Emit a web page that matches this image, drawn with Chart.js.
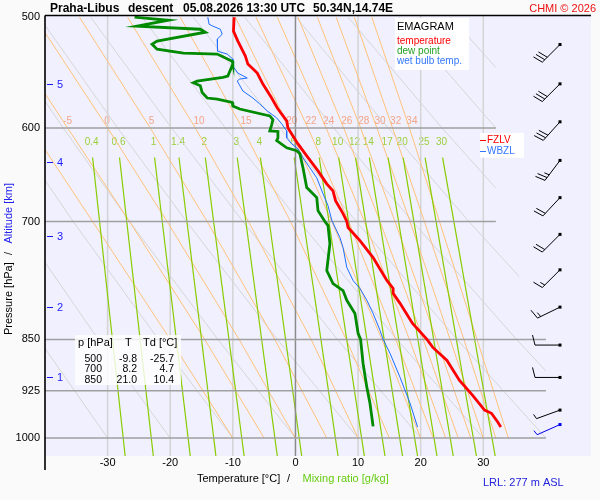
<!DOCTYPE html>
<html>
<head>
<meta charset="utf-8">
<script src="https://cdn.jsdelivr.net/npm/chart.js@4.4.1/dist/chart.umd.min.js"></script>
<style>
html, body { margin: 0; padding: 0; background: #fafafa; }
canvas { display: block; }
</style>
</head>
<body>
<canvas id="emagram" width="600" height="500"></canvas>
<script>
// sondage (p v hPa, teploty v °C)
var tempP = [500, 511.6, 520.1, 533.1, 540.1, 548.2, 558.2, 571.2, 580.6, 593.1, 600, 611, 616, 628.3, 644, 657.9, 665.5, 676.4, 691, 700, 707, 722.4, 742.8, 771.4, 781.6, 788, 801, 828, 850, 861, 880, 909.4, 932, 955, 960, 974, 982];
var tempT = [-9.8, -9.9, -9.2, -8.0, -7.6, -6.1, -5.2, -3.8, -2.9, -1.4, -1.2, -0.1, 0.4, 1.8, 3.6, 5.0, 6.0, 6.4, 7.6, 8.2, 8.4, 10.3, 12.4, 14.6, 15.6, 15.6, 16.7, 18.7, 21.0, 21.9, 24.2, 26.2, 28.3, 30.2, 31.3, 32.3, 32.8];

var dewP = [500, 502.5, 507.4, 510, 512.5, 520, 522.7, 527, 530.5, 531.3, 537.5, 540, 550.9, 552, 555.4, 557, 559.7, 566, 571.2, 572.3, 575.4, 578.7, 581.6, 588.3, 591.9, 597, 603, 603.5, 610, 612.6, 620, 623, 626, 640.7, 662, 673, 687.6, 700, 704.8, 725.9, 758.9, 775.3, 784.4, 797, 814.4, 841.5, 850, 884.4, 919.9, 944.3, 981];
var dewT = [-25.7, -20.3, -25.3, -15.2, -14.4, -22.1, -22.9, -22.1, -17.9, -12.5, -10.1, -10.0, -10.8, -11.6, -15.7, -16.3, -15.2, -14.9, -14.1, -12.5, -10.1, -10.0, -8.9, -4.1, -3.6, -3.8, -4.1, -2.8, -2.8, -3.0, -1.4, 0.2, 0.7, 1.2, 1.8, 3.4, 3.6, 4.7, 5.2, 5.5, 5.0, 6.0, 7.6, 8.2, 9.5, 10.0, 10.4, 10.8, 11.4, 11.9, 12.4];

var wetP = [500, 505.8, 507.4, 510, 514.2, 518.4, 524.4, 528.7, 531.3, 535.7, 541.9, 548.2, 552.7, 553.6, 555.4, 564.6, 571.2, 576.8, 583.5, 590.2, 596, 603, 610, 616, 621, 630.3, 640.7, 651.4, 668.7, 682, 698.6, 718.8, 730.7, 755, 771.4, 781.6, 797, 814.4, 837.4, 850, 869.7, 904.8, 944.3, 982];
var wetT = [-14.0, -13.8, -13.2, -12.0, -11.7, -12.5, -12.5, -12.4, -10.9, -10.0, -10.0, -9.2, -7.7, -8.9, -9.3, -8.4, -6.8, -5.7, -4.5, -3.0, -2.2, -1.4, -1.4, -0.6, 0.4, 1.2, 2.3, 3.4, 4.4, 5.2, 5.8, 7.1, 7.6, 8.2, 9.2, 10.3, 11.4, 12.4, 13.5, 14.0, 15.1, 16.7, 18.3, 19.5];

// tabulka vlevo dole
var tableP = [500, 700, 850];
var tableT = [-9.8, 8.2, 21.0];
var tableTd = [-25.7, 4.7, 10.4];

// vítr (směr odkud, rychlost v kt)
var windP = [523, 558, 594, 633, 673, 715, 758, 806, 858, 905, 955, 978];
var windDir = [225, 225, 222, 217, 223, 225, 225, 244, 270, 270, 250, 246];
var windKt = [30, 30, 30, 25, 20, 20, 15, 15, 10, 10, 5, 5];

// výšky (km) a hladiny
var altKm = [1, 2, 3, 4, 5];
var altP = [905, 806.5, 717, 635, 558.5];
var fzlvP = 612;
var wbzlP = 623;

// osy
var yTicks = [500, 600, 700, 850, 925, 1000];
var xTicks = [-30, -20, -10, 0, 10, 20, 30];
var isoT = [-30, -20, -10, 0, 10, 20, 30];
var isobarP = [600, 700, 850, 925, 1000];
var isobarEndT = [32, 32, 40, 40, 40];

// suché adiabaty (theta v °C u 1000 hPa), teploty na hladinách
var adiabatLevels = [500, 600, 700, 850, 1000];
var dryT500 = [-73.7, -65.5, -57.3, -49.1, -40.9, -32.7, -24.5, -16.3, -8.1, 0.1, 8.4, 16.6, 24.8];
var dryT600 = [-63.0, -54.4, -45.7, -37.1, -28.4, -19.8, -11.2, -2.5, 6.1, 14.8, 23.4, 32.0, 40.7];
var dryT700 = [-53.6, -44.5, -35.5, -26.5, -17.4, -8.4, 0.6, 9.7, 18.7, 27.7, 36.8, 45.8, 54.8];
var dryT850 = [-41.0, -31.5, -21.9, -12.4, -2.9, 6.7, 16.2, 25.8, 35.3, 44.9, 54.4, 64.0, 73.5];
var dryT1000 = [-30, -20, -10, 0, 10, 20, 30, 40, 50, 60, 70, 80, 90];

// nasycené adiabaty (theta_w)
var moistT500 = [-55, -48, -41.6, -34.5, -26.8, -18.4, -9.6, -6.3, -2.9, 0.4, 3.5, 6.5, 9.4, 12.2];
var moistT600 = [-42.3, -36.4, -30.0, -23.2, -16.0, -8.5, -1.0, 2.0, 4.9, 7.7, 10.4, 13.0, 15.5, 18.2];
var moistT700 = [-32.4, -26.5, -20.5, -14.1, -7.5, -0.8, 5.8, 8.5, 11.0, 13.5, 15.9, 18.3, 20.6, 23.0];
var moistT850 = [-20.0, -14.5, -9.0, -3.3, 2.5, 8.1, 13.8, 16.0, 18.2, 20.4, 22.5, 24.7, 26.9, 29.0];
var moistT1000 = [-10, -5, 0, 5, 10, 15, 20, 22, 24, 26, 28, 30, 32, 34];
var moistLabels = ['-5', '0', '5', '10', '15', '20', '22', '24', '26', '28', '30', '32', '34'];
var moistLabelT = [-36.4, -30.1, -23.0, -15.4, -7.9, -0.6, 2.5, 5.3, 8.2, 10.9, 13.5, 16.0, 18.6];

// čáry směšovacího poměru (g/kg)
var mixW = ['0.4', '0.6', '1', '1.4', '2', '3', '4', '6', '8', '10', '12', '14', '17', '20', '25', '30'];
var mixTopT = [-32.4, -28.1, -22.5, -18.6, -14.4, -9.3, -5.6, -0.2, 3.8, 6.9, 9.6, 11.8, 14.8, 17.2, 20.7, 23.5];
var mixBotT = [-27.2, -22.7, -16.8, -12.7, -8.2, -2.9, 1.0, 6.8, 11.0, 14.3, 17.1, 19.5, 22.6, 25.2, 28.9, 31.9];
var mixTopP = 630;
var mixBotP = 1030;

// hranice mřížky vpravo
var clipT = [32, 32, 40, 40];
var clipP = [500, 700, 850, 1000];

var FONT = '"Liberation Sans", Arial, sans-serif';

function pts(ps, ts) {
    return ps.map(function (p, i) { return { x: ts[i], y: p }; });
}

var datasets = [];
function addLine(data, color, width, order, gridClip) {
    datasets.push({
        data: data,
        showLine: true,
        borderColor: color,
        borderWidth: width,
        pointRadius: 0,
        fill: false,
        tension: 0,
        order: order,
        gridClip: !!gridClip
    });
}

// sondáž
addLine(pts(tempP, tempT), '#ff0000', 2.8, 0);
addLine(pts(dewP, dewT), '#008a00', 2.8, 1);
addLine(pts(wetP, wetT), '#1e6eff', 1, 2);

// izobary
for (var i = 0; i < isobarP.length; i++) {
    addLine([{ x: -40, y: isobarP[i] }, { x: isobarEndT[i], y: isobarP[i] }], '#a0a0a0', 1.5, 5);
}
// izotermy
for (var i = 0; i < isoT.length; i++) {
    addLine([{ x: isoT[i], y: 499 }, { x: isoT[i], y: 1030 }], isoT[i] === 0 ? '#8c8c8c' : '#d4d4d4', 1.5, isoT[i] === 0 ? 6 : 9);
}
// směšovací poměr
for (var i = 0; i < mixW.length; i++) {
    addLine([{ x: mixTopT[i], y: mixTopP }, { x: mixBotT[i], y: mixBotP }], '#88cc00', 1.2, 7);
}
// nasycené adiabaty
for (var i = 0; i < moistT1000.length; i++) {
    addLine(pts(adiabatLevels, [moistT500[i], moistT600[i], moistT700[i], moistT850[i], moistT1000[i]]), '#ffc27a', 1, 8, true);
}
// suché adiabaty
for (var i = 0; i < dryT1000.length; i++) {
    addLine(pts(adiabatLevels, [dryT500[i], dryT600[i], dryT700[i], dryT850[i], dryT1000[i]]), '#d6d6d6', 1, 10, true);
}

var bgPlugin = {
    id: 'bg',
    beforeDraw: function (chart) {
        var ctx = chart.ctx, a = chart.chartArea;
        ctx.save();
        ctx.fillStyle = '#fafafa';
        ctx.fillRect(0, 0, chart.width, chart.height);
        ctx.fillStyle = '#f0f0ff';
        ctx.fillRect(a.left, a.top, a.right - a.left, a.bottom - a.top);
        ctx.restore();
    }
};

var clipPlugin = {
    id: 'gridClip',
    beforeDatasetDraw: function (chart, args) {
        var ds = chart.data.datasets[args.index];
        if (!ds.gridClip) return;
        var sx = chart.scales.x, sy = chart.scales.y, ctx = chart.ctx;
        ctx.save();
        ctx.beginPath();
        ctx.moveTo(sx.getPixelForValue(-40), sy.getPixelForValue(clipP[0]) - 2);
        for (var k = 0; k < clipT.length; k++) {
            ctx.lineTo(sx.getPixelForValue(clipT[k]), sy.getPixelForValue(clipP[k]) - (k === 0 ? 2 : 0));
        }
        ctx.lineTo(sx.getPixelForValue(-40), sy.getPixelForValue(clipP[clipP.length - 1]));
        ctx.closePath();
        ctx.clip();
    },
    afterDatasetDraw: function (chart, args) {
        var ds = chart.data.datasets[args.index];
        if (ds.gridClip) chart.ctx.restore();
    }
};

var textPlugin = {
    id: 'texts',
    beforeDatasetsDraw: function (chart) {
        var ctx = chart.ctx, sx = chart.scales.x, sy = chart.scales.y;
        ctx.save();
        // popisky nasycených adiabat
        ctx.font = '10px ' + FONT;
        ctx.fillStyle = '#f4a487';
        ctx.textAlign = 'center';
        ctx.textBaseline = 'middle';
        for (var i = 0; i < moistLabels.length; i++) {
            ctx.fillText(moistLabels[i], sx.getPixelForValue(moistLabelT[i]), sy.getPixelForValue(593));
        }
        // popisky směšovacího poměru
        ctx.fillStyle = '#9ccf3c';
        for (var i = 0; i < mixW.length; i++) {
            ctx.fillText(mixW[i], sx.getPixelForValue(mixTopT[i]) - 1, sy.getPixelForValue(614));
        }
        ctx.restore();
    },
    afterDraw: function (chart) {
        var ctx = chart.ctx, sx = chart.scales.x, sy = chart.scales.y, a = chart.chartArea;
        ctx.save();
        // rámeček
        ctx.strokeStyle = '#000';
        ctx.lineWidth = 1.6;
        ctx.beginPath();
        ctx.moveTo(a.left, 15.5);
        ctx.lineTo(a.right, 15.5);
        ctx.moveTo(a.left, 15.5);
        ctx.lineTo(a.left, 470);
        ctx.stroke();

        // nadpis
        ctx.fillStyle = '#000';
        ctx.font = 'bold 12px ' + FONT;
        ctx.textAlign = 'left';
        ctx.textBaseline = 'alphabetic';
        ctx.fillText('Praha-Libus', 50, 12);
        ctx.fillText('descent', 128, 12);
        ctx.fillText('05.08.2026 13:30 UTC', 183, 12);
        ctx.fillText('50.34N,14.74E', 313, 12);
        ctx.font = '11px ' + FONT;
        ctx.fillStyle = '#ee1111';
        ctx.textAlign = 'right';
        ctx.fillText('CHMI \u00a9 2026', 596, 12);

        // osa y
        ctx.fillStyle = '#000';
        ctx.font = '11px ' + FONT;
        ctx.textBaseline = 'middle';
        for (var i = 0; i < yTicks.length; i++) {
            ctx.fillText(String(yTicks[i]), 40, sy.getPixelForValue(yTicks[i]));
        }
        // osa x
        ctx.textAlign = 'center';
        for (var i = 0; i < xTicks.length; i++) {
            ctx.fillText(String(xTicks[i]), sx.getPixelForValue(xTicks[i]), 463);
        }

        // výšky v km
        ctx.textAlign = 'left';
        ctx.font = '11px ' + FONT;
        ctx.fillStyle = '#1a1aff';
        ctx.strokeStyle = '#1a1aff';
        ctx.lineWidth = 1;
        for (var i = 0; i < altKm.length; i++) {
            var ya = Math.round(sy.getPixelForValue(altP[i])) + 0.5;
            ctx.beginPath();
            ctx.moveTo(47, ya);
            ctx.lineTo(53, ya);
            ctx.stroke();
            ctx.fillText(String(altKm[i]), 57, ya);
        }

        // popisky os
        ctx.font = '11px ' + FONT;
        ctx.textBaseline = 'alphabetic';
        ctx.fillStyle = '#000';
        ctx.fillText('Temperature [\u00b0C]', 197, 482);
        ctx.fillText('/', 287, 482);
        ctx.fillStyle = '#66cc11';
        ctx.fillText('Mixing ratio [g/kg]', 302.5, 482);
        ctx.fillStyle = '#2222dd';
        ctx.fillText('LRL: 277 m ASL', 483, 486);

        ctx.save();
        ctx.translate(12, 0);
        ctx.rotate(-Math.PI / 2);
        ctx.fillStyle = '#000';
        ctx.fillText('Pressure [hPa]', -335, 0);
        ctx.fillText('/', -255, 0);
        ctx.fillStyle = '#2222ee';
        ctx.fillText('Altitude [km]', -243.5, 0);
        ctx.restore();

        // legenda
        ctx.fillStyle = '#ffffff';
        ctx.fillRect(395, 18, 74, 52);
        ctx.fillStyle = '#000';
        ctx.font = '11px ' + FONT;
        ctx.fillText('EMAGRAM', 397, 30);
        ctx.font = '10px ' + FONT;
        ctx.fillStyle = '#ff0000';
        ctx.fillText('temperature', 397, 44);
        ctx.fillStyle = '#22a022';
        ctx.fillText('dew point', 397, 54);
        ctx.fillStyle = '#3377ff';
        ctx.fillText('wet bulb temp.', 397, 64);

        // FZLV / WBZL
        var yf = sy.getPixelForValue(fzlvP), yw = sy.getPixelForValue(wbzlP);
        ctx.fillStyle = '#ffffff';
        ctx.fillRect(480, yf - 7, 44, yw - yf + 14);
        ctx.textBaseline = 'middle';
        ctx.lineWidth = 1;
        ctx.strokeStyle = '#ff0000';
        ctx.beginPath(); ctx.moveTo(480, Math.round(yf) + 0.5); ctx.lineTo(486, Math.round(yf) + 0.5); ctx.stroke();
        ctx.fillStyle = '#ff0000';
        ctx.fillText('FZLV', 487, yf + 0.5);
        ctx.strokeStyle = '#3377ff';
        ctx.beginPath(); ctx.moveTo(480, Math.round(yw) + 0.5); ctx.lineTo(486, Math.round(yw) + 0.5); ctx.stroke();
        ctx.fillStyle = '#3377ff';
        ctx.fillText('WBZL', 487, yw + 0.5);

        // tabulka
        ctx.fillStyle = 'rgba(255,255,255,0.8)';
        ctx.fillRect(75, 335, 106, 50);
        ctx.fillStyle = '#000';
        ctx.textBaseline = 'alphabetic';
        ctx.font = '11px ' + FONT;
        ctx.textAlign = 'left';
        ctx.fillText('p [hPa]', 78, 346);
        ctx.fillText('T', 125, 346);
        ctx.fillText('Td [\u00b0C]', 143, 346);
        ctx.font = '10.5px ' + FONT;
        ctx.textAlign = 'right';
        for (var i = 0; i < tableP.length; i++) {
            var yb = 361.5 + i * 10.7;
            ctx.fillText(String(tableP[i]), 102, yb);
            ctx.fillText(tableT[i].toFixed(1), 137, yb);
            ctx.fillText(tableTd[i].toFixed(1), 174, yb);
        }

        // větrné praporky
        for (var i = 0; i < windP.length; i++) {
            var col = i === windP.length - 1 ? '#0000ee' : '#000';
            ctx.strokeStyle = col;
            ctx.fillStyle = col;
            ctx.lineWidth = 1;
            var x0 = 560, y0 = sy.getPixelForValue(windP[i]);
            var d = windDir[i] * Math.PI / 180;
            var ux = Math.sin(d), uy = -Math.cos(d);
            var px = -uy, py = ux;
            var L = 25;
            var ex = x0 + ux * L, ey = y0 + uy * L;
            ctx.beginPath();
            ctx.moveTo(x0, y0);
            ctx.lineTo(ex, ey);
            var full = Math.floor(windKt[i] / 10);
            var half = (windKt[i] % 10) >= 5;
            var pos = 0;
            for (var k = 0; k < full; k++) {
                var bx = ex - ux * pos, by = ey - uy * pos;
                ctx.moveTo(bx, by);
                ctx.lineTo(bx + px * 10 + ux * 2.5, by + py * 10 + uy * 2.5);
                pos += 3.5;
            }
            if (half) {
                var bx = ex - ux * pos, by = ey - uy * pos;
                ctx.moveTo(bx, by);
                ctx.lineTo(bx + px * 5 + ux * 1.3, by + py * 5 + uy * 1.3);
            }
            ctx.stroke();
            ctx.fillRect(x0 - 1.5, y0 - 1.5, 3, 3);
        }
        ctx.restore();
    }
};

new Chart(document.getElementById('emagram'), {
    type: 'scatter',
    data: { datasets: datasets },
    options: {
        responsive: false,
        animation: false,
        events: [],
        layout: { padding: { left: 45, right: 9, top: 16, bottom: 44 } },
        scales: {
            x: { type: 'linear', min: -40, max: 47.2, display: false },
            y: { type: 'logarithmic', min: 499, max: 1030, reverse: true, display: false }
        },
        plugins: {
            legend: { display: false },
            tooltip: { enabled: false }
        }
    },
    plugins: [bgPlugin, clipPlugin, textPlugin]
});
</script>
</body>
</html>
